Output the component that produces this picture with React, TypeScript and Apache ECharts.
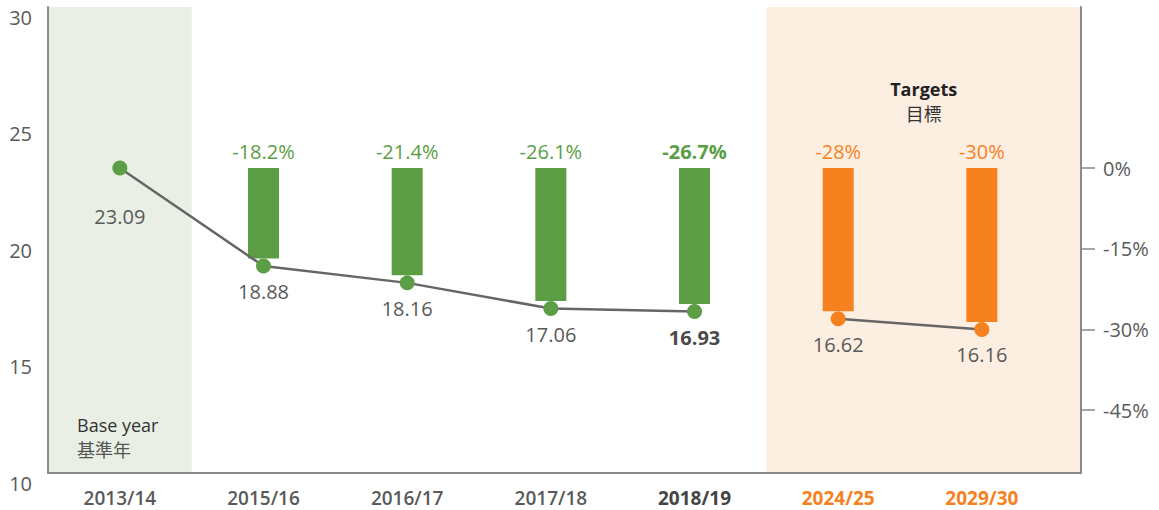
import React, { useEffect, useRef } from "react";
import * as echarts from "echarts";

const categories = ["2013/14", "2015/16", "2016/17", "2017/18", "2018/19", "2024/25", "2029/30"];
const emissions = [23.09, 18.88, 18.16, 17.06, 16.93, 16.62, 16.16];
const reductions = [0, -18.2, -21.4, -26.1, -26.7, -28, -30];
const kinds = ["base", "actual", "actual", "actual", "latest", "target", "target"];
const leftTicks = { min: 10, max: 30, interval: 5 };
const percentTicks = [0, -15, -30, -45];

const GREEN = "#5b9e45";
const ORANGE = "#f5821f";
const GREEN_BG = "#e9efe5";
const ORANGE_BG = "#fdeee2";
const AXIS = "#8a8a8a";
const TEXT = "#5a5a5a";
const FONT = "'Open Sans', 'Noto Sans', sans-serif";
const CJK = "'Noto Sans CJK TC', 'Open Sans', sans-serif";
const X_MAX = 6.69;

export default function App() {
  const ref = useRef<HTMLDivElement>(null);
  useEffect(() => {
    if (!ref.current) return;
    const chart = echarts.init(ref.current, null, { renderer: "svg" });
    const base = emissions[0];
    const colorOf = (i: number) => (kinds[i] === "target" ? ORANGE : GREEN);

    const lineItem = (i: number) => ({
      value: [i, emissions[i]],
      itemStyle: { color: colorOf(i) },
      label: {
        distance: i === 0 ? 31 : 8,
        fontWeight: kinds[i] === "latest" ? "bold" : "normal",
        color: kinds[i] === "latest" ? "#4a4a4a" : TEXT,
      },
    });
    const actualIdx = categories.map((_, i) => i).filter((i) => kinds[i] !== "target");
    const targetIdx = categories.map((_, i) => i).filter((i) => kinds[i] === "target");

    const lineCommon = {
      type: "line",
      z: 5,
      symbol: "circle",
      symbolSize: 15,
      lineStyle: { color: "#666666", width: 2.5 },
      label: {
        show: true,
        position: "bottom",
        fontSize: 20,
        fontFamily: FONT,
        color: TEXT,
        formatter: (p: any) => p.value[1].toFixed(2),
      },
    };

    const barData = categories
      .map((_, i) => i)
      .filter((i) => kinds[i] !== "base")
      .map((i) => [i, emissions[i], reductions[i]]);

    const option: any = {
      animation: false,
      grid: { left: 48, right: 78, top: 7, bottom: 37 },
      xAxis: {
        type: "value",
        min: -0.5,
        max: X_MAX,
        z: 4,
        splitLine: { show: false },
        axisLine: { show: true, onZero: false, lineStyle: { color: AXIS, width: 2 } },
        axisTick: { show: false },
        axisLabel: {
          customValues: categories.map((_, i) => i),
          margin: 15,
          formatter: (v: number) => {
            const i = Math.round(v);
            const k = kinds[i];
            const s = k === "target" ? "t" : k === "latest" ? "l" : "n";
            return `{${s}|${categories[i]}}`;
          },
          rich: {
            n: { fontSize: 19, fontWeight: 600, color: TEXT, fontFamily: FONT },
            l: { fontSize: 19, fontWeight: "bold", color: "#444444", fontFamily: FONT },
            t: { fontSize: 19, fontWeight: "bold", color: ORANGE, fontFamily: FONT },
          },
        },
      },
      yAxis: [
        {
          type: "value",
          min: leftTicks.min,
          max: leftTicks.max,
          interval: leftTicks.interval,
          z: 4,
          splitLine: { show: false },
          axisLine: { show: true, onZero: false, lineStyle: { color: AXIS, width: 2 } },
          axisTick: { show: false },
          axisLabel: {
            fontSize: 20,
            color: TEXT,
            fontFamily: FONT,
            margin: 16,
            verticalAlign: "top",
          },
        },
        {
          type: "value",
          position: "right",
          min: leftTicks.min,
          max: leftTicks.max,
          z: 4,
          splitLine: { show: false },
          axisLine: { show: true, onZero: false, lineStyle: { color: AXIS, width: 2 } },
          axisTick: {
            show: true,
            inside: false,
            length: 14,
            lineStyle: { color: AXIS, width: 1.5 },
            customValues: percentTicks.map((p) => base * (1 + p / 100)),
          },
          axisLabel: {
            customValues: percentTicks.map((p) => base * (1 + p / 100)),
            fontSize: 20,
            color: TEXT,
            fontFamily: FONT,
            margin: 22,
            formatter: (v: number) => `${Math.round((v / base - 1) * 100)}%`,
          },
        },
      ],
      series: [
        {
          type: "custom",
          z: 3,
          renderItem: (params: any, api: any) => {
            const x = api.value(0);
            const v = api.value(1);
            const p = api.value(2);
            const i = Math.round(x);
            const top = api.coord([x, base]);
            const bot = api.coord([x, v]);
            const w = 31;
            const col = colorOf(i);
            return {
              type: "group",
              children: [
                {
                  type: "rect",
                  shape: { x: top[0] - w / 2, y: top[1], width: w, height: bot[1] - 7.5 - top[1] },
                  style: { fill: col },
                },
                {
                  type: "text",
                  style: {
                    text: `${p}%`,
                    x: top[0],
                    y: top[1] - 7,
                    align: "center",
                    verticalAlign: "bottom",
                    fill: col,
                    fontSize: 20,
                    fontFamily: FONT,
                    fontWeight: kinds[i] === "latest" ? "bold" : "normal",
                  },
                },
              ],
            };
          },
          data: barData,
          markArea: {
            silent: true,
            data: [
              [
                {
                  xAxis: -0.5,
                  itemStyle: { color: GREEN_BG },
                  label: {
                    show: true,
                    position: "insideBottomLeft",
                    distance: 12,
                    offset: [17, 0],
                    formatter: "{a|Base year}\n{b|基準年}",
                    rich: {
                      a: { fontSize: 18, color: "#333333", fontFamily: FONT, lineHeight: 24 },
                      b: { fontSize: 18, color: "#555555", fontFamily: CJK, lineHeight: 24 },
                    },
                  },
                },
                { xAxis: 0.5 },
              ],
              [
                {
                  xAxis: 4.5,
                  itemStyle: { color: ORANGE_BG },
                  label: {
                    show: true,
                    position: "insideTop",
                    distance: 70,
                    align: "center",
                    formatter: "{a|Targets}\n{b|目標}",
                    rich: {
                      a: { fontSize: 18, fontWeight: "bold", color: "#222222", fontFamily: FONT, lineHeight: 24, align: "center" },
                      b: { fontSize: 18, color: "#333333", fontFamily: CJK, lineHeight: 24, align: "center" },
                    },
                  },
                },
                { xAxis: X_MAX },
              ],
            ],
          },
        },
        { ...lineCommon, data: actualIdx.map(lineItem) },
        { ...lineCommon, data: targetIdx.map(lineItem) },
      ],
    };
    chart.setOption(option);
    return () => chart.dispose();
  }, []);
  return (
    <div
      ref={ref}
      style={{ position: "absolute", left: 0, top: 0, width: 1159, height: 510, background: "#ffffff" }}
    />
  );
}
